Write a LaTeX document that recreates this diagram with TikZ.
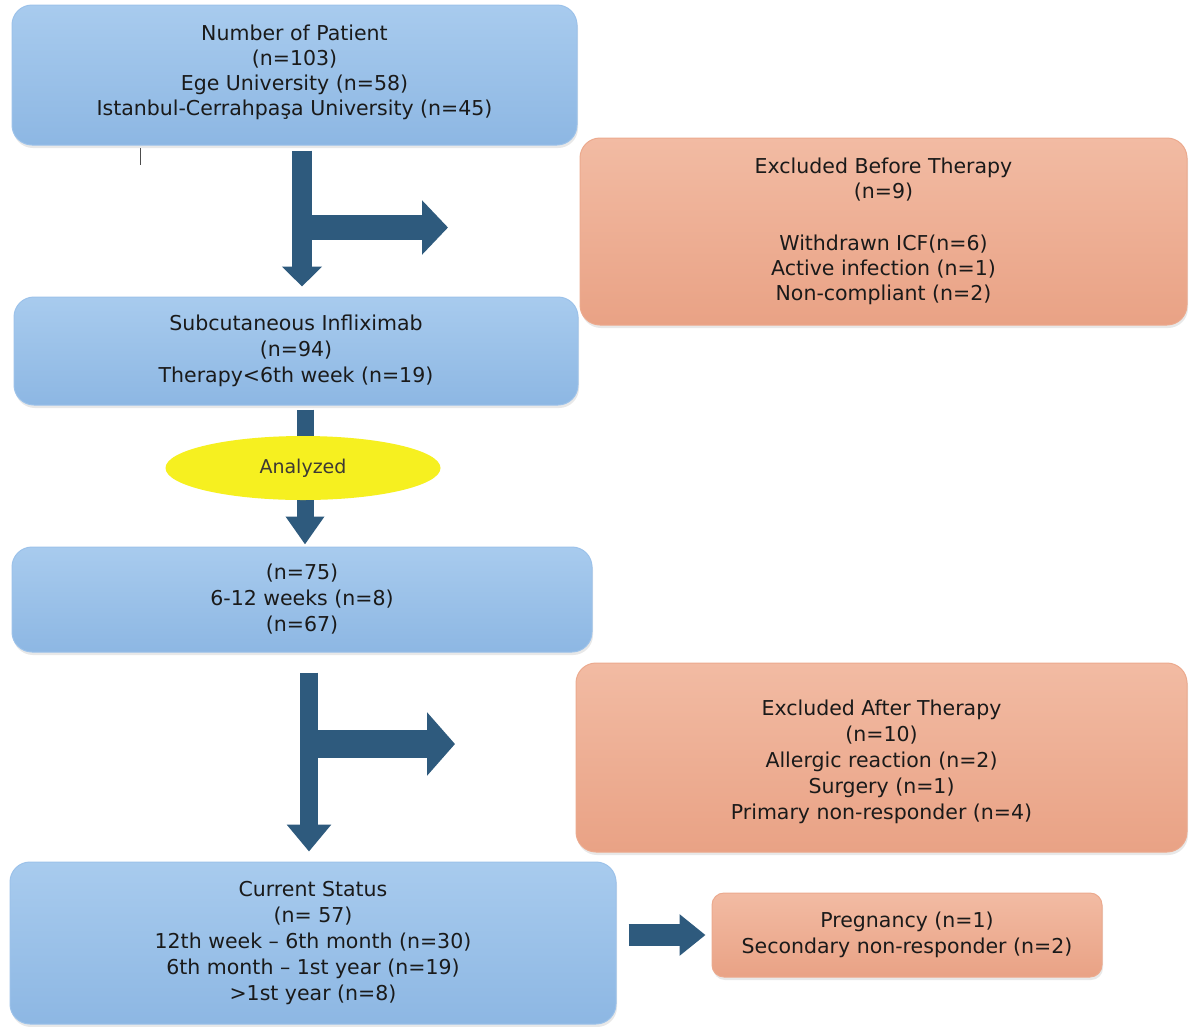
\documentclass[tikz,border=0pt]{standalone}
\usepackage{fontspec}
\setmainfont{DejaVu Sans}
\usetikzlibrary{arrows.meta,shapes.geometric,shadows}
\definecolor{bluetop}{HTML}{A8CBEE}
\definecolor{bluebot}{HTML}{8DB7E3}
\definecolor{blueedge}{HTML}{9CC2EA}
\definecolor{peachtop}{HTML}{F2BBA3}
\definecolor{peachbot}{HTML}{E9A285}
\definecolor{peachedge}{HTML}{ECAA8E}
\definecolor{arrowcol}{HTML}{2E5A7D}
\definecolor{yell}{HTML}{F6F020}
\definecolor{txt}{HTML}{1A1A1A}
\tikzset{
  boxbase/.style={rounded corners=20pt, align=center, inner sep=0pt, text=txt,
    font=\fontsize{20.5}{26}\selectfont,
    drop shadow={opacity=0.18, shadow xshift=1pt, shadow yshift=-3pt}},
  bluebox/.style={boxbase, top color=bluetop, bottom color=bluebot, draw=blueedge, line width=1pt},
  peachbox/.style={boxbase, top color=peachtop, bottom color=peachbot, draw=peachedge, line width=1pt},
  blockarrow/.style={draw=arrowcol, color=arrowcol}
}
\begin{document}
\begin{tikzpicture}[x=1pt,y=-1pt]
\useasboundingbox[fill=white] (0,0) rectangle (1189,1026);

% boxes
\node[bluebox, minimum width=565pt, minimum height=140pt] (b1) at (294.5,75)
  {Number of Patient\\[-1pt](n=103)\\[-1pt]Ege University (n=58)\\[-1pt]Istanbul-Cerrahpaşa University (n=45)\\[-16pt]};
\node[peachbox, minimum width=607pt, minimum height=187pt] (ex1) at (883.5,231.5)
  {Excluded Before Therapy\\[-1pt](n=9)\\~\\Withdrawn ICF(n=6)\\[-1pt]Active infection (n=1)\\[-1pt]Non-compliant (n=2)};
\node[bluebox, minimum width=564pt, minimum height=108pt] (b2) at (296,351)
  {Subcutaneous Infliximab\\(n=94)\\Therapy<6th week (n=19)};
\node[bluebox, minimum width=580pt, minimum height=105pt] (b3) at (302,599.5)
  {(n=75)\\6-12 weeks (n=8)\\(n=67)};
\node[peachbox, minimum width=611pt, minimum height=189pt] (ex2) at (881.5,757.5)
  {\\[-2pt]Excluded After Therapy\\(n=10)\\Allergic reaction (n=2)\\Surgery (n=1)\\Primary non-responder (n=4)};
\node[bluebox, minimum width=606pt, minimum height=162pt] (b4) at (313,943)
  {Current Status\\(n= 57)\\12th week – 6th month (n=30)\\6th month – 1st year (n=19)\\>1st year (n=8)};
\node[peachbox, rounded corners=12pt, minimum width=390pt, minimum height=84pt] (ex3) at (907,935)
  {Pregnancy (n=1)\\Secondary non-responder (n=2)};

% stray mark
\coordinate (m1) at (140,148);
\coordinate (m2) at (140,165);
\draw[line width=1pt, black!70] (m1) -- (m2);

% arrow 1 with branch
\coordinate (c1) at (302,0);
\draw[blockarrow, line width=20pt, -{Triangle[width=39pt,length=20pt]}, shorten <=5pt, shorten >=10pt]
  (b1.south -| c1) -- (b2.north -| c1);
\coordinate (j1) at (305,227.5);
\coordinate (t1) at (448,227.5);
\draw[blockarrow, line width=25pt, -{Triangle[width=53pt,length=26pt]}] (j1) -- (t1);

% arrow 2 behind ellipse
\coordinate (c2) at (305,0);
\draw[blockarrow, line width=17pt, -{Triangle[width=37pt,length=28pt]}, shorten <=4pt, shorten >=2pt]
  (b2.south -| c2) -- (b3.north -| c2);
\node[ellipse, fill=yell, minimum width=275pt, minimum height=64pt, inner sep=0pt,
  font=\fontsize{19}{22}\selectfont, text=black!80!yellow!60!black] (an) at (303,468) {Analyzed};

% arrow 3 with branch
\coordinate (c3) at (309,0);
\draw[blockarrow, line width=18pt, -{Triangle[width=43pt,length=27pt]}, shorten <=20pt, shorten >=10pt]
  (b3.south -| c3) -- (b4.north -| c3);
\coordinate (j3) at (312,744);
\coordinate (t3) at (455,744);
\draw[blockarrow, line width=28pt, -{Triangle[width=62pt,length=28pt]}] (j3) -- (t3);

% arrow 4
\draw[blockarrow, line width=22pt, -{Triangle[width=40pt,length=26pt]}, shorten <=12pt, shorten >=6pt]
  (b4.east |- ex3.west) -- (ex3.west);
\end{tikzpicture}
\end{document}
